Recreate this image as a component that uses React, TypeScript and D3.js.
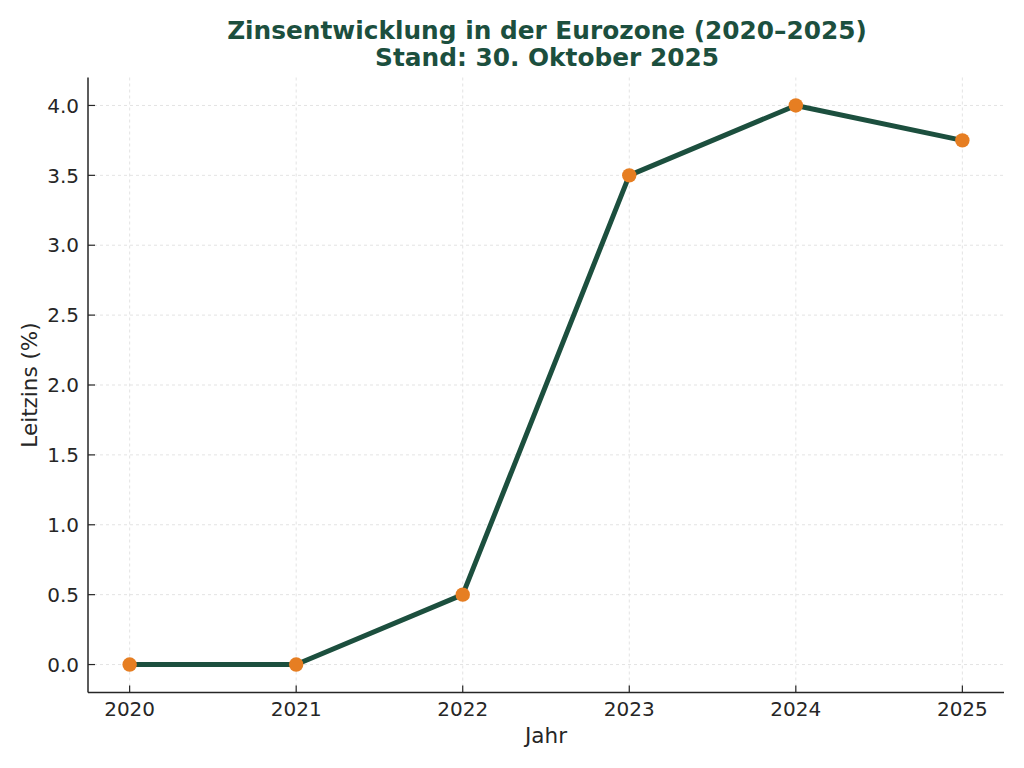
import React from "react";
import * as d3 from "d3";

const years = [2020, 2021, 2022, 2023, 2024, 2025];
const rates = [0.0, 0.0, 0.5, 3.5, 4.0, 3.75];
const yTicks = [0, 0.5, 1.0, 1.5, 2.0, 2.5, 3.0, 3.5, 4.0];
const titleLines = ["Zinsentwicklung in der Eurozone (2020–2025)", "Stand: 30. Oktober 2025"];

const W = 1024, H = 768;
const left = 88, right = 1004, top = 77.5, bottom = 692.5;

export default function App() {
  const x = d3.scaleLinear().domain([2019.75, 2025.25]).range([left, right]);
  const y = d3.scaleLinear().domain([-0.2, 4.2]).range([bottom, top]);
  const line = d3.line<number>().x((_, i) => x(years[i])).y((d) => y(d));
  const font = "DejaVu Sans, sans-serif";
  const textColor = "#262626";
  return (
    <svg width={W} height={H} style={{ position: "absolute", left: 0, top: 0, background: "#fff" }} fontFamily={font}>
      {yTicks.map((t) => (
        <line key={"gy" + t} x1={left} x2={right} y1={y(t)} y2={y(t)} stroke="#dcdcdc" strokeWidth={0.8} strokeDasharray="3,3" />
      ))}
      {years.map((t) => (
        <line key={"gx" + t} x1={x(t)} x2={x(t)} y1={top} y2={bottom} stroke="#dcdcdc" strokeWidth={0.8} strokeDasharray="3,3" />
      ))}
      <line x1={left} x2={left} y1={top} y2={bottom} stroke="#262626" strokeWidth={1.5} />
      <line x1={left} x2={right} y1={bottom} y2={bottom} stroke="#262626" strokeWidth={1.5} />
      {yTicks.map((t) => (
        <g key={"ty" + t}>
          <line x1={left} x2={left + 7} y1={y(t)} y2={y(t)} stroke="#262626" strokeWidth={1.2} />
          <text x={left - 9} y={y(t)} dy="0.36em" textAnchor="end" fontSize={20} fill={textColor}>{t.toFixed(1)}</text>
        </g>
      ))}
      {years.map((t) => (
        <g key={"tx" + t}>
          <line x1={x(t)} x2={x(t)} y1={bottom - 7} y2={bottom} stroke="#262626" strokeWidth={1.2} />
          <text x={x(t)} y={716} textAnchor="middle" fontSize={20} fill={textColor}>{t}</text>
        </g>
      ))}
      <text x={(left + right) / 2} y={743} textAnchor="middle" fontSize={21.5} fill={textColor}>Jahr</text>
      <text transform={`translate(37,${(top + bottom) / 2}) rotate(-90)`} textAnchor="middle" fontSize={21.5} fill={textColor}>Leitzins (%)</text>
      <path d={line(rates) || ""} fill="none" stroke="#1c4f3e" strokeWidth={5} strokeLinejoin="round" />
      {rates.map((v, i) => (
        <circle key={"m" + i} cx={x(years[i])} cy={y(v)} r={7.2} fill="#e67e22" />
      ))}
      {titleLines.map((s, i) => (
        <text key={"t" + i} x={(left + right) / 2 + 1} y={39 + i * 27} textAnchor="middle" fontSize={24.8} fontWeight="bold" fill="#1c4f3e">{s}</text>
      ))}
    </svg>
  );
}
